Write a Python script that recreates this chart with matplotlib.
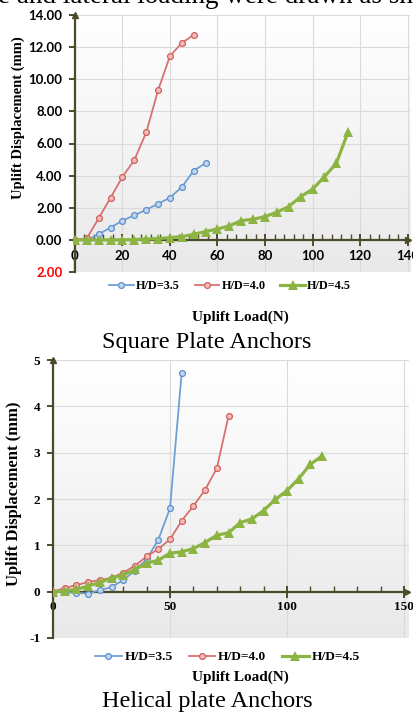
import numpy as np
import matplotlib
matplotlib.use("Agg")
import matplotlib.pyplot as plt
from matplotlib.colors import LinearSegmentedColormap
from matplotlib.font_manager import FontProperties
from matplotlib.ticker import MultipleLocator, FixedLocator, FixedFormatter

# ---- square plate anchors ----
sq_load_35 = [0, 5, 10, 15, 20, 25, 30, 35, 40, 45, 50, 55]
sq_disp_35 = [0, 0, 0.35, 0.77, 1.20, 1.53, 1.88, 2.24, 2.63, 3.29, 4.31, 4.78]
sq_load_40 = [0, 5, 10, 15, 20, 25, 30, 35, 40, 45, 50]
sq_disp_40 = [0, 0.1, 1.35, 2.63, 3.93, 4.97, 6.69, 9.32, 11.45, 12.26, 12.77]
sq_load_45 = [0, 5, 10, 15, 20, 25, 30, 35, 40, 45, 50, 55,
              60, 65, 70, 75, 80, 85, 90, 95, 100, 105, 110, 115]
sq_disp_45 = [0, 0, 0, 0, 0, 0.02, 0.05, 0.08, 0.14, 0.2, 0.35, 0.52,
              0.68, 0.87, 1.2, 1.28, 1.45, 1.72, 2.07, 2.69, 3.15, 3.93, 4.76, 6.73]

# ---- helical plate anchors ----
hx_load_35 = [0, 5, 10, 15, 20, 25, 30, 35, 40, 45, 50, 55]
hx_disp_35 = [0, 0, -0.03, -0.04, 0.03, 0.1, 0.25, 0.45, 0.7, 1.12, 1.80, 4.73]
hx_load_40 = [0, 5, 10, 15, 20, 25, 30, 35, 40, 45, 50, 55, 60, 65, 70, 75]
hx_disp_40 = [0, 0.08, 0.14, 0.21, 0.25, 0.3, 0.41, 0.56, 0.76, 0.92, 1.13,
              1.53, 1.85, 2.2, 2.66, 3.79]
hx_load_45 = [0, 5, 10, 15, 20, 25, 30, 35, 40, 45, 50, 55,
              60, 65, 70, 75, 80, 85, 90, 95, 100, 105, 110, 115]
hx_disp_45 = [0, 0.02, 0.05, 0.12, 0.2, 0.29, 0.36, 0.48, 0.61, 0.68, 0.83, 0.86,
              0.93, 1.06, 1.22, 1.27, 1.49, 1.57, 1.75, 1.99, 2.18, 2.44, 2.75, 2.93]

series_names = ["H/D=3.5", "H/D=4.0", "H/D=4.5"]

sq_xticks = [0, 20, 40, 60, 80, 100, 120, 140]
sq_yticks = [-2, 0, 2, 4, 6, 8, 10, 12, 14]
sq_ylabels = ["2.00", "0.00", "2.00", "4.00", "6.00", "8.00", "10.00", "12.00", "14.00"]
hx_xticks = [0, 50, 100, 150]
hx_yticks = [-1, 0, 1, 2, 3, 4, 5]
hx_ylabels = ["-1", "0", "1", "2", "3", "4", "5"]

AXIS_C = "#4d4a2c"
GRID_C = "#dadada"
SERIF = "Liberation Serif"

styles = [
    dict(color="#6f9fd8", marker="o", ms=4.2, mfc="#c3d6ef", mec="#5b8fd0", mew=0.9, lw=1.3),
    dict(color="#d9716f", marker="o", ms=4.2, mfc="#f5bcba", mec="#cf5f5d", mew=0.9, lw=1.3),
    dict(color="#8cb443", marker="^", ms=6.5, mfc="#8cb443", mec="#8cb443", mew=0, lw=2.3),
]

grad = LinearSegmentedColormap.from_list("bg", ["#e9e9e9", "#ffffff"])


def draw_panel(fig, rect, xlim, ylim, series, xticks, xminor, yticks, ylabels,
               tick_font, label_size, label_xy):
    bg = fig.add_axes(rect, zorder=0)
    bg.imshow(np.linspace(0, 1, 256).reshape(-1, 1), extent=[0, 1, 0, 1],
              origin="lower", aspect="auto", cmap=grad)
    bg.set_axis_off()

    ax = fig.add_axes(rect, zorder=1)
    ax.set_facecolor("none")
    for (x, y), st in zip(series, styles):
        ax.plot(x, y, zorder=3, **st)

    ax.set_xlim(*xlim)
    ax.set_ylim(*ylim)
    ax.set_xticks(xticks)
    ax.xaxis.set_minor_locator(MultipleLocator(xminor))
    ax.yaxis.set_major_locator(FixedLocator(yticks))
    ax.yaxis.set_major_formatter(FixedFormatter(ylabels))

    for s in ["top", "right"]:
        ax.spines[s].set_visible(False)
    ax.spines["bottom"].set_position(("data", 0))
    ax.spines["left"].set_position(("data", 0))
    for s in ["bottom", "left"]:
        ax.spines[s].set_color(AXIS_C)
        ax.spines[s].set_linewidth(1.6)

    ax.tick_params(axis="x", which="major", direction="inout", length=8, width=1.4,
                   color=AXIS_C, pad=3)
    ax.tick_params(axis="x", which="minor", direction="in", length=4, width=1.0,
                   color=AXIS_C)
    ax.tick_params(axis="y", which="major", direction="out", length=4, width=1.4,
                   color=AXIS_C, pad=5)
    for lab in ax.get_xticklabels() + ax.get_yticklabels():
        lab.set_fontproperties(tick_font)

    ax.grid(True, which="major", color=GRID_C, lw=0.8, zorder=0)
    ax.set_axisbelow(True)

    # arrow heads on the axes
    ax.plot([xlim[1] - 0.8], [0], marker=">", ms=5, color=AXIS_C,
            clip_on=False, zorder=4)
    ax.plot([0], [1], marker="^", ms=5, color=AXIS_C,
            transform=ax.get_xaxis_transform(), clip_on=False, zorder=4)

    ax.set_ylabel("Uplift Displacement (mm)", fontfamily=SERIF, fontweight="bold",
                  fontsize=label_size)
    ax.yaxis.set_label_coords(*label_xy)
    return ax


fig = plt.figure(figsize=(4.14, 7.13), dpi=100)
fig.patch.set_facecolor("white")

# cut-off line of text from the page above
fig.text(-0.006, 1 - 3 / 713, "e and lateral loading were drawn as sh",
         fontfamily=SERIF, fontsize=19.5, va="baseline", ha="left")

ax1 = draw_panel(
    fig, [72.6 / 414, 1 - 272 / 713, 337.3 / 414, 257 / 713],
    (-1, 141), (-2, 14),
    [(sq_load_35, sq_disp_35), (sq_load_40, sq_disp_40), (sq_load_45, sq_disp_45)],
    sq_xticks, 4, sq_yticks, sq_ylabels,
    FontProperties(family="Lato", weight="bold", size=9.5), 10.5, (-0.142, 0.6))
ax1.get_yticklabels()[0].set_color("red")

ax2 = draw_panel(
    fig, [53 / 414, 1 - 638 / 713, 355.7 / 414, 278 / 713],
    (0, 152), (-1, 5),
    [(hx_load_35, hx_disp_35), (hx_load_40, hx_disp_40), (hx_load_45, hx_disp_45)],
    hx_xticks, 10, hx_yticks, hx_ylabels,
    FontProperties(family=SERIF, weight="bold", size=9.5), 12, (-0.088, 0.52))

# legends
handles = ax1.get_lines()[:3]
for y, size, cx in [(1 - 286 / 713, 8.8, 0.556), (1 - 657 / 713, 9.6, 0.549)]:
    fig.legend(handles, series_names, loc="center", bbox_to_anchor=(cx, y),
               ncol=3, frameon=False,
               prop=dict(family=SERIF, weight="bold", size=size),
               handlelength=2.0, handletextpad=0.2, columnspacing=1.2,
               borderaxespad=0)

for y in [1 - 317 / 713, 1 - 677 / 713]:
    fig.text(0.58, y, "Uplift Load(N)", fontfamily=SERIF, fontweight="bold",
             fontsize=11, ha="center", va="center")

fig.text(0.5, 1 - 343 / 713, "Square Plate Anchors", fontfamily=SERIF,
         fontsize=17.5, ha="center", va="center")
fig.text(0.5, 1 - 701 / 713, "Helical plate Anchors", fontfamily=SERIF,
         fontsize=17.5, ha="center", va="center")

fig.savefig("out.png", dpi=100)
